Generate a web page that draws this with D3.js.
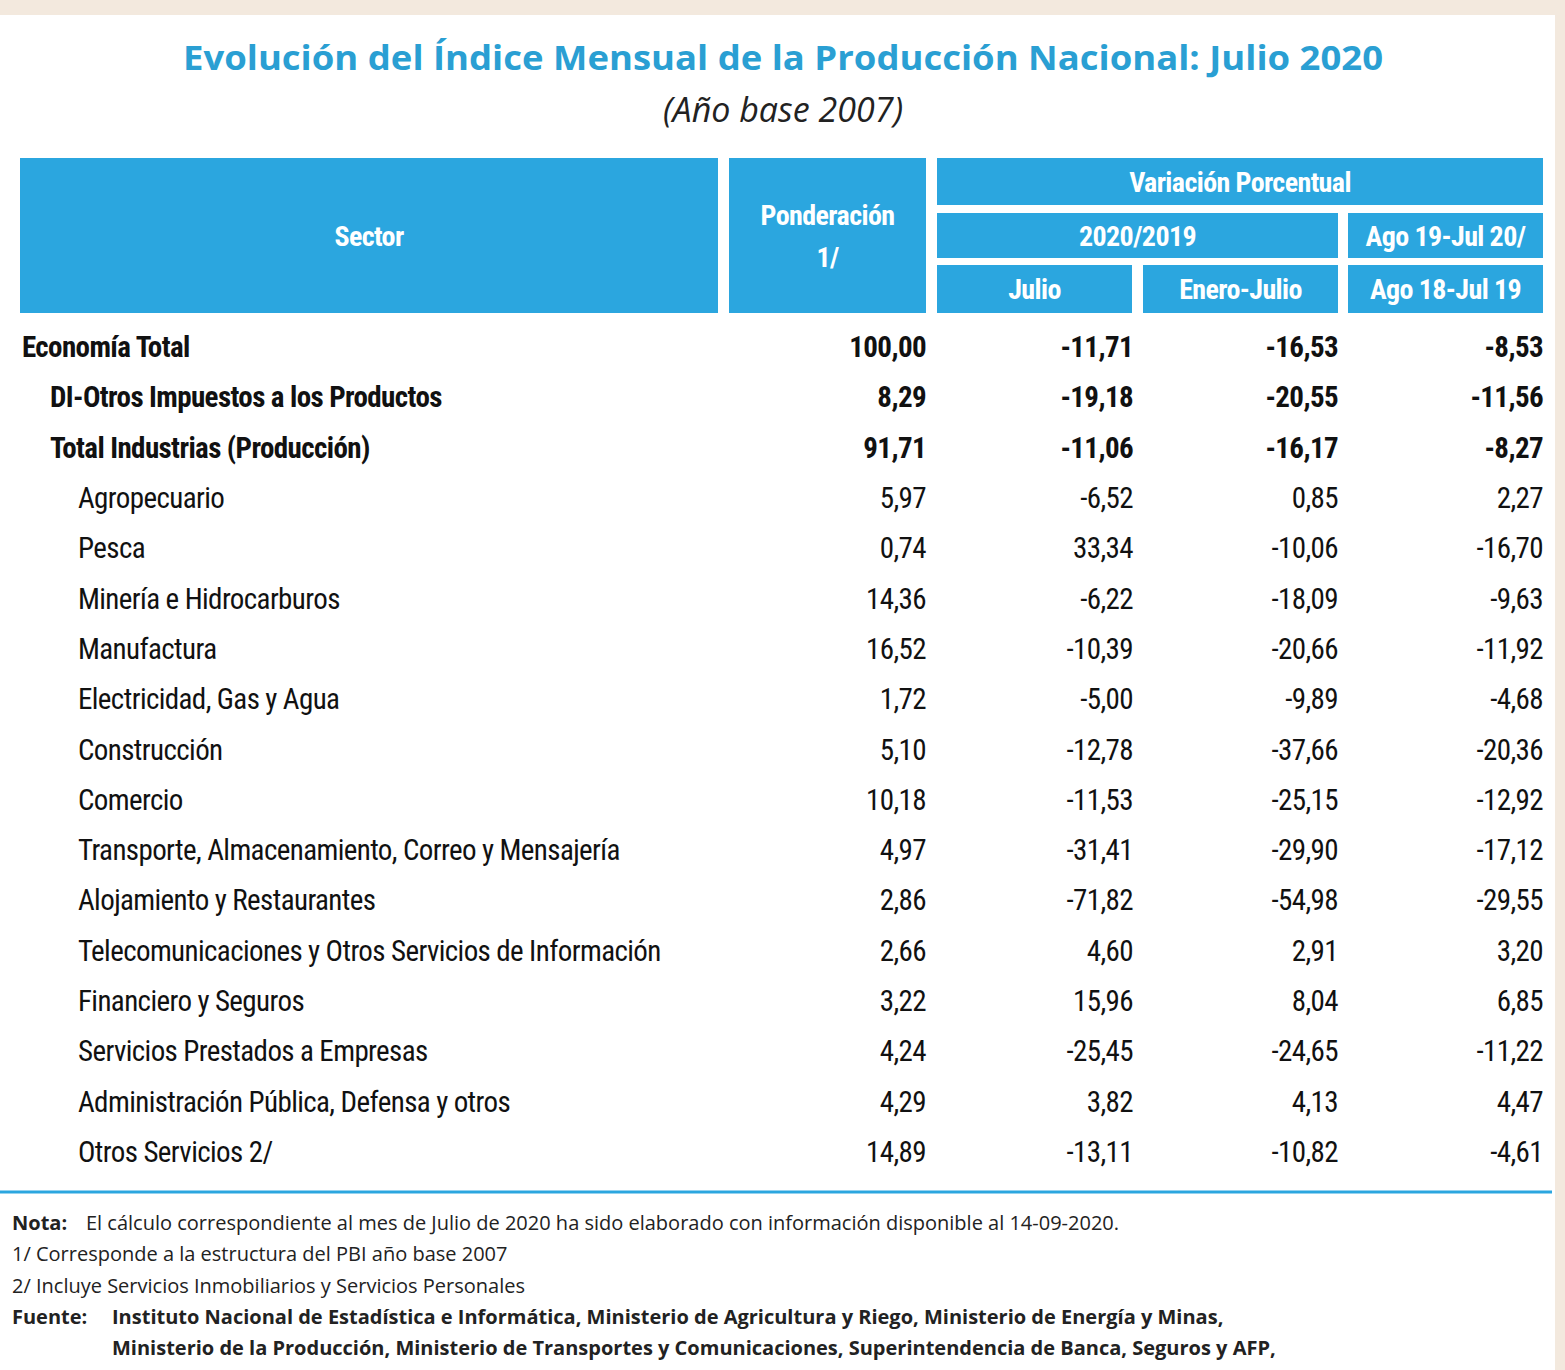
<!DOCTYPE html>
<html><head><meta charset="utf-8">
<script src="https://cdn.jsdelivr.net/npm/d3@7"></script>
<style>body{margin:0;background:#fff}</style>
</head><body>
<svg id="c" width="1565" height="1370"></svg>
<script>
var sectors = ["Economía Total","DI-Otros Impuestos a los Productos","Total  Industrias (Producción)","Agropecuario","Pesca","Minería e Hidrocarburos","Manufactura","Electricidad, Gas y Agua","Construcción","Comercio","Transporte, Almacenamiento, Correo y Mensajería","Alojamiento y Restaurantes","Telecomunicaciones y Otros Servicios de Información","Financiero y Seguros","Servicios Prestados a Empresas","Administración Pública, Defensa y otros","Otros Servicios 2/"];
var levels = [0,1,1,2,2,2,2,2,2,2,2,2,2,2,2,2,2];
var ponderacion = [100.00,8.29,91.71,5.97,0.74,14.36,16.52,1.72,5.10,10.18,4.97,2.86,2.66,3.22,4.24,4.29,14.89];
var julio = [-11.71,-19.18,-11.06,-6.52,33.34,-6.22,-10.39,-5.00,-12.78,-11.53,-31.41,-71.82,4.60,15.96,-25.45,3.82,-13.11];
var eneroJulio = [-16.53,-20.55,-16.17,0.85,-10.06,-18.09,-20.66,-9.89,-37.66,-25.15,-29.90,-54.98,2.91,8.04,-24.65,4.13,-10.82];
var anual = [-8.53,-11.56,-8.27,2.27,-16.70,-9.63,-11.92,-4.68,-20.36,-12.92,-17.12,-29.55,3.20,6.85,-11.22,4.47,-4.61];
var notes = [
  ["Nota:","El cálculo correspondiente al mes de Julio de 2020 ha sido elaborado con información disponible al 14-09-2020."],
  ["","1/ Corresponde a la estructura del PBI año base 2007"],
  ["","2/ Incluye Servicios Inmobiliarios y Servicios Personales"],
  ["Fuente:","Instituto Nacional de Estadística e Informática, Ministerio de Agricultura y Riego, Ministerio de Energía y Minas,"],
  ["","Ministerio de la Producción, Ministerio de Transportes y Comunicaciones, Superintendencia de Banca, Seguros y AFP,"]
];

var svg = d3.select("#c");
var blue = "#2ba6df", narrow = "'Liberation Sans Narrow','Roboto Condensed','Liberation Sans',sans-serif";
var fmt = function (v) { return d3.format(".2f")(v).replace(".", ",").replace("−","-"); };

svg.append("rect").attr("width",1565).attr("height",15).attr("fill","#f3e9de");
svg.append("rect").attr("x",1555).attr("width",10).attr("height",1370).attr("fill","#f3e9de");

svg.append("text").attr("x",783).attr("y",70).attr("text-anchor","middle")
  .attr("font-family","'Open Sans',sans-serif").attr("font-weight","bold").attr("font-size",34)
  .attr("textLength",1200).attr("lengthAdjust","spacingAndGlyphs")
  .attr("fill","#2a9fd3").text("Evolución del Índice Mensual de la Producción Nacional: Julio 2020");
svg.append("text").attr("x",783).attr("y",122).attr("text-anchor","middle")
  .attr("font-family","'Open Sans',sans-serif").attr("font-style","italic").attr("font-size",34)
  .attr("fill","#222").text("(Año base 2007)");

// header boxes
var boxes = [
  {x:20,y:158,w:698,h:155,t:["Sector"]},
  {x:729,y:158,w:197,h:155,t:["Ponderación","1/"]},
  {x:937,y:158,w:606,h:47,t:["Variación Porcentual"]},
  {x:937,y:213,w:401,h:45,t:["2020/2019"]},
  {x:1348,y:213,w:195,h:45,t:["Ago 19-Jul 20/"]},
  {x:937,y:265,w:195,h:48,t:["Julio"]},
  {x:1143,y:265,w:195,h:48,t:["Enero-Julio"]},
  {x:1348,y:265,w:195,h:48,t:["Ago 18-Jul 19"]}
];
var hb = svg.append("g").selectAll("g").data(boxes).join("g");
hb.append("rect").attr("x",d=>d.x).attr("y",d=>d.y).attr("width",d=>d.w).attr("height",d=>d.h).attr("fill",blue);
hb.each(function (d) {
  var g = d3.select(this), n = d.t.length;
  d.t.forEach(function (s, i) {
    g.append("text").attr("x", d.x + d.w/2).attr("y", d.y + d.h/2 + (i - (n-1)/2) * 42 + 10)
      .attr("text-anchor","middle").attr("font-family",narrow).attr("font-weight","bold")
      .attr("font-size",28).attr("letter-spacing",-0.6).attr("fill","#fff").text(s);
  });
});

// rows
var y = d3.scaleBand().domain(d3.range(sectors.length)).range([321, 1176]);
var rows = svg.append("g").selectAll("g").data(sectors).join("g")
  .attr("transform",(d,i)=>"translate(0,"+(y(i)+y.bandwidth()/2+11)+")")
  .attr("font-family",narrow).attr("font-size",29).attr("letter-spacing",-0.6).attr("fill","#111")
  .attr("font-weight",(d,i)=>levels[i]<2?"bold":"normal");
rows.append("text").attr("x",(d,i)=>22+levels[i]*28).text(d=>d);
var cols = [[ponderacion,926],[julio,1133],[eneroJulio,1338],[anual,1543]];
cols.forEach(function (c) {
  rows.append("text").attr("x",c[1]).attr("text-anchor","end").text((d,i)=>fmt(c[0][i]));
});

svg.append("line").attr("x1",0).attr("x2",1552).attr("y1",1192).attr("y2",1192)
  .attr("stroke",blue).attr("stroke-width",3);

var ny = d3.scaleLinear().domain([0,4]).range([1230,1355]);
var ng = svg.append("g").selectAll("g").data(notes).join("g")
  .attr("font-family","'Open Sans',sans-serif").attr("font-size",20).attr("fill","#222");
ng.append("text").attr("x",12).attr("y",(d,i)=>ny(i)).attr("font-weight","bold").text(d=>d[0]);
ng.append("text").attr("x",(d,i)=>d[0]==="Nota:"?86:(d[0]==="Fuente:"||i===4?112:12))
  .attr("y",(d,i)=>ny(i)).attr("font-weight",(d,i)=>i>=3?"bold":"normal").text(d=>d[1]);
</script>
</body></html>
